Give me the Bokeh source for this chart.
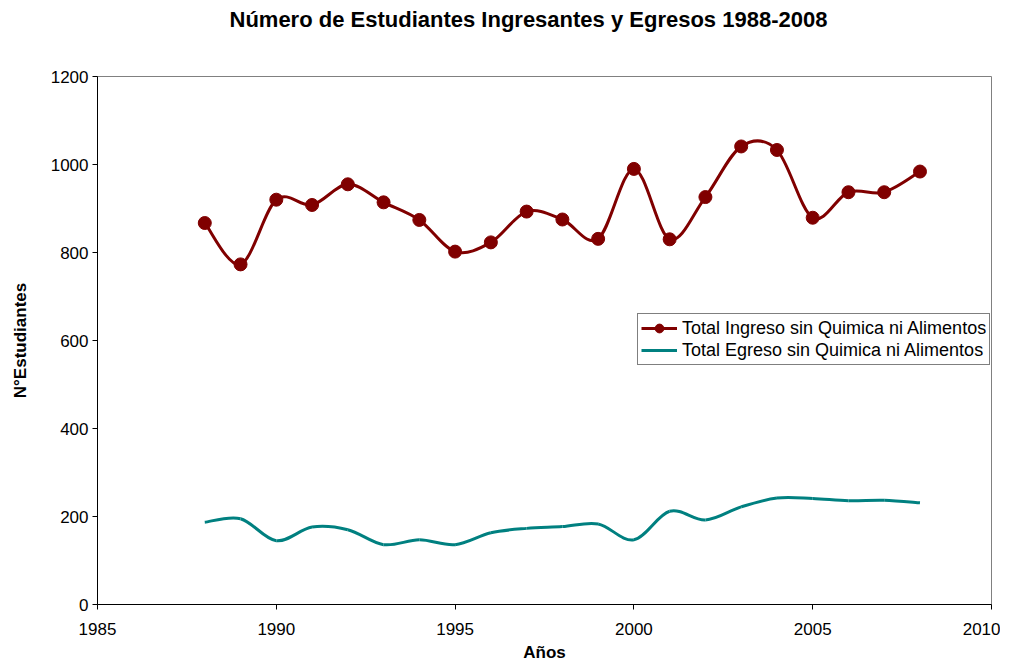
import numpy as np
from bokeh.plotting import figure
from bokeh.models import Legend, LegendItem, Range1d, FixedTicker, Title
from bokeh.embed import file_html
from bokeh.resources import INLINE

years = list(range(1988, 2009))
ingreso = [867, 773, 920, 908, 955, 914, 874, 802, 823, 893, 875,
           831, 990, 830, 926, 1041, 1033, 879, 937, 937, 984]
egreso = [187, 195, 145, 176, 170, 136, 147, 136, 163, 173, 177,
          183, 147, 212, 192, 222, 242, 241, 236, 237, 231]

x_ticks = [1985, 1990, 1995, 2000, 2005, 2010]
y_ticks = [0, 200, 400, 600, 800, 1000, 1200]

title_text = "Número de Estudiantes Ingresantes y Egresos 1988-2008"
x_label = "Años"
y_label = "N°Estudiantes"
label_ing = "Total Ingreso sin Quimica ni Alimentos"
label_egr = "Total Egreso sin Quimica ni Alimentos"

RED = "#800000"
TEAL = "#008080"
FONT = "Liberation Sans"


def smooth_segments(xs, ys):
    x = np.asarray(xs, float)
    y = np.asarray(ys, float)
    xp = np.concatenate([[x[0]], x, [x[-1]]])
    yp = np.concatenate([[y[0]], y, [y[-1]]])
    n = len(x)
    x0, y0, x1, y1 = x[:-1], y[:-1], x[1:], y[1:]
    cx0 = x0 + (xp[2:n + 1] - xp[0:n - 1]) / 6.0
    cy0 = y0 + (yp[2:n + 1] - yp[0:n - 1]) / 6.0
    cx1 = x1 - (xp[3:n + 2] - xp[1:n]) / 6.0
    cy1 = y1 - (yp[3:n + 2] - yp[1:n]) / 6.0
    return dict(x0=x0, y0=y0, x1=x1, y1=y1, cx0=cx0, cy0=cy0, cx1=cx1, cy1=cy1)


p = figure(width=1000, height=664, output_backend="svg", toolbar_location=None,
           x_range=Range1d(1985, 2010), y_range=Range1d(0, 1200),
           min_border_left=97, min_border_right=9, min_border_top=76,
           min_border_bottom=60, title=None)

# spacer between frame and title, then the title itself further out
p.add_layout(Title(text=" ", text_font=FONT, text_font_size="10px",
                   standoff=30), "above")
p.add_layout(Title(text=title_text, align="left", offset=132,
                   text_font=FONT, text_font_size="22px",
                   text_font_style="bold", text_color="black",
                   standoff=4), "above")

p.xgrid.visible = False
p.ygrid.visible = False
p.outline_line_color = "#808080"
p.outline_line_width = 1
p.background_fill_color = "white"
p.border_fill_color = "white"

for ax in (p.xaxis[0], p.yaxis[0]):
    ax.axis_line_color = "black"
    ax.major_tick_line_color = "black"
    ax.minor_tick_line_color = None
    ax.major_tick_in = 0
    ax.major_tick_out = 5
    ax.major_label_text_font = FONT
    ax.major_label_text_font_size = "17px"
    ax.major_label_text_color = "black"
    ax.axis_label_text_font = FONT
    ax.axis_label_text_font_size = "17px"
    ax.axis_label_text_font_style = "bold"
    ax.axis_label_text_color = "black"

p.xaxis.ticker = FixedTicker(ticks=x_ticks)
p.yaxis.ticker = FixedTicker(ticks=y_ticks)
p.xaxis.axis_label = x_label
p.yaxis.axis_label = y_label
p.xaxis.major_label_standoff = 13
p.xaxis.axis_label_standoff = 5
p.yaxis.major_label_standoff = 4
p.yaxis.axis_label_standoff = 18

seg_e = smooth_segments(years, egreso)
p.bezier(x0="x0", y0="y0", x1="x1", y1="y1", cx0="cx0", cy0="cy0",
         cx1="cx1", cy1="cy1", source=seg_e, line_color=TEAL, line_width=3)
seg_i = smooth_segments(years, ingreso)
p.bezier(x0="x0", y0="y0", x1="x1", y1="y1", cx0="cx0", cy0="cy0",
         cx1="cx1", cy1="cy1", source=seg_i, line_color=RED, line_width=3)
r_pts = p.scatter(years, ingreso, size=13, marker="circle",
                  fill_color=RED, line_color=RED)

leg_line_i = p.line([np.nan, np.nan], [np.nan, np.nan], line_color=RED, line_width=3)
leg_line_e = p.line([np.nan, np.nan], [np.nan, np.nan], line_color=TEAL, line_width=3)

legend = Legend(items=[LegendItem(label=label_ing, renderers=[leg_line_i, r_pts]),
                       LegendItem(label=label_egr, renderers=[leg_line_e])],
                location=(540, 239))
legend.border_line_color = "black"
legend.border_line_width = 1
legend.background_fill_color = "white"
legend.background_fill_alpha = 1
legend.label_text_font = FONT
legend.label_text_font_size = "18px"
legend.label_text_color = "black"
legend.glyph_width = 36
legend.glyph_height = 22
legend.label_height = 22
legend.label_standoff = 5
legend.padding = 3
legend.spacing = 0
legend.margin = 0
p.add_layout(legend, "center")

open("out.html", "w").write(file_html(p, INLINE))
